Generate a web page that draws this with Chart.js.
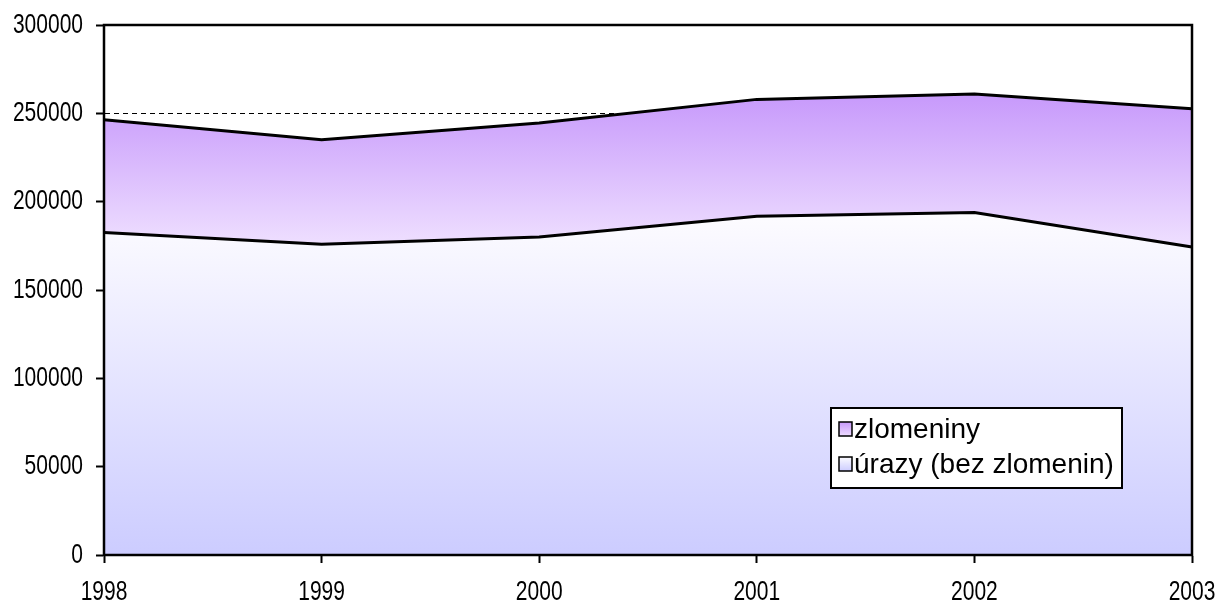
<!DOCTYPE html>
<html lang="cs">
<head>
  <meta charset="UTF-8">
  <title>Úrazy a zlomeniny</title>
  <script src="https://cdn.jsdelivr.net/npm/chart.js"></script>
  <style>
    html, body { margin: 0; padding: 0; background: #fff; }
    #wrap { width: 1220px; height: 605px; }
  </style>
</head>
<body>
  <div id="wrap"><canvas id="chart" width="1220" height="605"></canvas></div>

  <script>
    const years = ['1998', '1999', '2000', '2001', '2002', '2003'];
    const urazy = [182500, 175900, 180000, 191700, 193800, 174400];
    const zlomeniny = [63900, 59200, 64500, 66200, 67100, 78200];
    const yMax = 300000;
    const yStep = 50000;

    const FONT = '"Liberation Sans", Arial, sans-serif';

    // gradient over the bounding box of each area band
    function bandGradient(ctx, lowVals, highVals, topColor, bottomColor) {
      const chart = ctx.chart;
      if (!chart.chartArea) return bottomColor;
      const y = chart.scales.y;
      const top = y.getPixelForValue(Math.max(...highVals));
      const bottom = y.getPixelForValue(Math.min(...lowVals));
      const g = chart.ctx.createLinearGradient(0, top, 0, bottom);
      g.addColorStop(0, topColor);
      g.addColorStop(1, bottomColor);
      return g;
    }

    const totals = urazy.map((v, i) => v + zlomeniny[i]);
    const zeros = urazy.map(() => 0);

    // condensed text, the original uses a narrow face
    function narrowText(ctx, text, x, y, align) {
      ctx.save();
      ctx.translate(x, y);
      ctx.scale(0.75, 1);
      ctx.textAlign = align;
      ctx.fillText(text, 0, 0);
      ctx.restore();
    }

    const frame = {
      id: 'frame',
      afterDatasetsDraw(chart) {
        const { ctx, chartArea: a } = chart;
        ctx.save();
        ctx.strokeStyle = '#000';
        ctx.lineWidth = 2.5;
        ctx.strokeRect(a.left, a.top, a.right - a.left, a.bottom - a.top);
        ctx.restore();
      }
    };

    const tickText = {
      id: 'tickText',
      afterDraw(chart) {
        const { ctx, scales: { x, y } } = chart;
        ctx.save();
        ctx.fillStyle = '#000';
        ctx.font = '28px ' + FONT;
        ctx.textBaseline = 'middle';
        y.ticks.forEach((t, i) => narrowText(ctx, String(t.label), 83, y.getPixelForTick(i), 'right'));
        x.ticks.forEach((t, i) => narrowText(ctx, String(t.label), x.getPixelForTick(i), 592, 'center'));
        ctx.restore();
      }
    };

    const boxLegend = {
      id: 'boxLegend',
      afterDraw(chart) {
        const ctx = chart.ctx;
        const x = 831, y = 408, w = 291, h = 80;
        ctx.save();
        ctx.fillStyle = '#fff';
        ctx.fillRect(x, y, w, h);
        ctx.strokeStyle = '#000';
        ctx.lineWidth = 2;
        ctx.strokeRect(x, y, w, h);
        const items = [
          { text: 'zlomeniny', c1: '#c899fb', c2: '#eddcff', cy: 429 },
          { text: 'úrazy (bez zlomenin)', c1: '#fbfbff', c2: '#ccccff', cy: 464 }
        ];
        ctx.font = '28px ' + FONT;
        ctx.textBaseline = 'middle';
        items.forEach(it => {
          const g = ctx.createLinearGradient(0, it.cy - 7, 0, it.cy + 7);
          g.addColorStop(0, it.c1);
          g.addColorStop(1, it.c2);
          ctx.fillStyle = g;
          ctx.fillRect(839, it.cy - 7, 13, 14);
          ctx.lineWidth = 1.5;
          ctx.strokeRect(839, it.cy - 7, 13, 14);
          ctx.fillStyle = '#000';
          ctx.fillText(it.text, 854, it.cy + 1);
        });
        ctx.restore();
      }
    };

    new Chart(document.getElementById('chart'), {
      type: 'line',
      data: {
        labels: years,
        datasets: [
          {
            label: 'úrazy (bez zlomenin)',
            data: urazy,
            fill: 'origin',
            borderColor: '#000',
            borderWidth: 3,
            backgroundColor: ctx => bandGradient(ctx, zeros, urazy, '#fdfcff', '#ccccff')
          },
          {
            label: 'zlomeniny',
            data: zlomeniny,
            fill: '-1',
            borderColor: '#000',
            borderWidth: 3,
            backgroundColor: ctx => bandGradient(ctx, urazy, totals, '#c799fb', '#efe0ff')
          }
        ]
      },
      options: {
        responsive: false,
        animation: false,
        elements: { line: { tension: 0 }, point: { radius: 0, hoverRadius: 0 } },
        layout: { padding: { top: 25, right: 28, left: 0, bottom: 0 } },
        plugins: { legend: { display: false }, tooltip: { enabled: false } },
        scales: {
          x: {
            offset: false,
            afterFit: s => { s.height = 50; s.paddingLeft = 0; s.paddingRight = 0; },
            grid: {
              offset: false,
              drawOnChartArea: false,
              tickLength: 8,
              tickColor: '#000',
              tickWidth: 2
            },
            border: { color: '#000', width: 2 },
            ticks: { display: false, maxRotation: 0, autoSkip: false }
          },
          y: {
            stacked: true,
            min: 0,
            max: yMax,
            afterFit: s => { s.width = 104; s.paddingTop = 0; s.paddingBottom = 0; },
            grid: {
              color: '#000',
              lineWidth: 1,
              tickLength: 8,
              tickColor: '#000',
              tickWidth: 2,
              tickBorderDash: []
            },
            border: { color: '#000', width: 2, dash: [5, 4] },
            ticks: {
              display: false,
              stepSize: yStep,
              callback: v => String(v)
            }
          }
        }
      },
      plugins: [frame, tickText, boxLegend]
    });
  </script>
</body>
</html>
